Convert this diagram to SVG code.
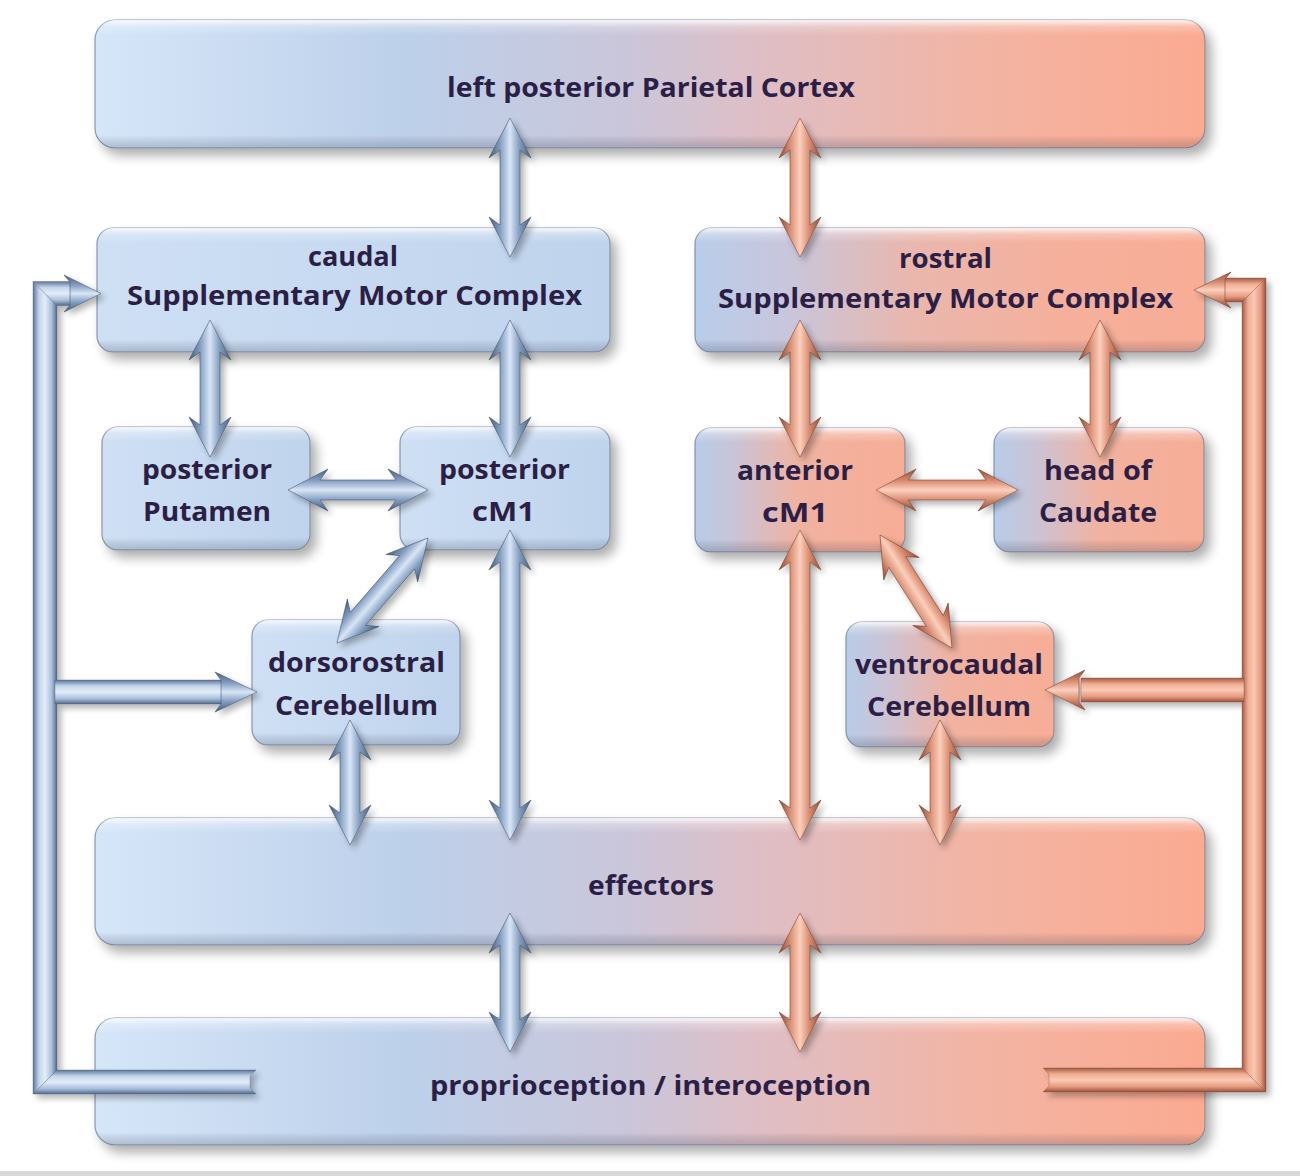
<svg xmlns="http://www.w3.org/2000/svg" width="1300" height="1176" viewBox="0 0 1300 1176">
<defs>
<style>
.t{font-family:"Open Sans","Noto Sans","Liberation Sans",sans-serif;font-weight:700;font-size:26px;fill:#2b1f46}
.box{stroke:#6d7891;stroke-opacity:.75;stroke-width:1.2;filter:url(#sh)}
.bev{fill:url(#gBev);stroke:none}
.ab{fill:url(#gArrB);stroke:#3f5270;stroke-width:.8;stroke-opacity:.7}
.ao{fill:url(#gArrO);stroke:#7d3f2c;stroke-width:.8;stroke-opacity:.7}
.tbh{fill:url(#gTubeBH);stroke:#3f5270;stroke-width:.6;stroke-opacity:.5}
.tbv{fill:url(#gTubeBV);stroke:#3f5270;stroke-width:.6;stroke-opacity:.5}
.toh{fill:url(#gTubeOH);stroke:#7d3f2c;stroke-width:.6;stroke-opacity:.5}
.tov{fill:url(#gTubeOV);stroke:#7d3f2c;stroke-width:.6;stroke-opacity:.5}
</style>
<filter id="sh" x="-10%" y="-20%" width="125%" height="150%">
<feGaussianBlur in="SourceAlpha" stdDeviation="6"/>
<feOffset dx="6" dy="7" result="o"/>
<feComponentTransfer><feFuncA type="linear" slope="0.33"/></feComponentTransfer>
<feMerge><feMergeNode/><feMergeNode in="SourceGraphic"/></feMerge>
</filter>
<filter id="sha" x="-30%" y="-30%" width="160%" height="160%">
<feGaussianBlur in="SourceAlpha" stdDeviation="3"/>
<feOffset dx="4" dy="4"/>
<feComponentTransfer><feFuncA type="linear" slope="0.3"/></feComponentTransfer>
<feMerge><feMergeNode/><feMergeNode in="SourceGraphic"/></feMerge>
</filter>
<linearGradient id="gWide" x1="0" y1="0" x2="1" y2="0">
<stop offset="0" stop-color="#d6e6f9"/>
<stop offset="0.28" stop-color="#bdd0ea"/>
<stop offset="0.48" stop-color="#cac6da"/>
<stop offset="0.6" stop-color="#dfbec5"/>
<stop offset="0.8" stop-color="#f3b4a3"/>
<stop offset="1" stop-color="#fbaa91"/>
</linearGradient>
<linearGradient id="gBlue" x1="0" y1="0" x2="1" y2="0">
<stop offset="0" stop-color="#cfe0f5"/>
<stop offset="1" stop-color="#bfd3ec"/>
</linearGradient>
<linearGradient id="gRos" x1="0" y1="0" x2="1" y2="0">
<stop offset="0" stop-color="#b9cdea"/>
<stop offset="0.18" stop-color="#c8c6dc"/>
<stop offset="0.42" stop-color="#e9b7ae"/>
<stop offset="0.7" stop-color="#f5b09c"/>
<stop offset="1" stop-color="#f8ad96"/>
</linearGradient>
<linearGradient id="gOr" x1="0" y1="0" x2="1" y2="0">
<stop offset="0" stop-color="#b7cce9"/>
<stop offset="0.2" stop-color="#cbc3d5"/>
<stop offset="0.5" stop-color="#f1b2a1"/>
<stop offset="1" stop-color="#f7ad96"/>
</linearGradient>
<linearGradient id="gBev" x1="0" y1="0" x2="0" y2="1">
<stop offset="0" stop-color="#fff" stop-opacity="0.85"/>
<stop offset="0.05" stop-color="#fff" stop-opacity="0.25"/>
<stop offset="0.12" stop-color="#fff" stop-opacity="0"/>
<stop offset="0.9" stop-color="#000" stop-opacity="0"/>
<stop offset="1" stop-color="#2a3550" stop-opacity="0.22"/>
</linearGradient>
<linearGradient id="gArrB" x1="0" y1="0" x2="0" y2="1">
<stop offset="0" stop-color="#465e7f"/>
<stop offset="0.28" stop-color="#869fc1"/>
<stop offset="0.5" stop-color="#d8e5f6"/>
<stop offset="0.72" stop-color="#8aa3c5"/>
<stop offset="1" stop-color="#405878"/>
</linearGradient>
<linearGradient id="gArrO" x1="0" y1="0" x2="0" y2="1">
<stop offset="0" stop-color="#924d39"/>
<stop offset="0.28" stop-color="#d98c70"/>
<stop offset="0.5" stop-color="#fccfbc"/>
<stop offset="0.72" stop-color="#dc9378"/>
<stop offset="1" stop-color="#8c4833"/>
</linearGradient>
<linearGradient id="gTubeBH" x1="0" y1="0" x2="0" y2="1">
<stop offset="0" stop-color="#5d7597"/>
<stop offset="0.25" stop-color="#c3d5ec"/>
<stop offset="0.5" stop-color="#e4edf9"/>
<stop offset="0.78" stop-color="#a8bedb"/>
<stop offset="1" stop-color="#52698b"/>
</linearGradient>
<linearGradient id="gTubeBV" x1="0" y1="0" x2="1" y2="0">
<stop offset="0" stop-color="#5d7597"/>
<stop offset="0.25" stop-color="#c3d5ec"/>
<stop offset="0.5" stop-color="#e4edf9"/>
<stop offset="0.78" stop-color="#a8bedb"/>
<stop offset="1" stop-color="#52698b"/>
</linearGradient>
<linearGradient id="gTubeOH" x1="0" y1="0" x2="0" y2="1">
<stop offset="0" stop-color="#a15a43"/>
<stop offset="0.25" stop-color="#f0ad93"/>
<stop offset="0.5" stop-color="#fbc9b5"/>
<stop offset="0.78" stop-color="#e59a7e"/>
<stop offset="1" stop-color="#98513b"/>
</linearGradient>
<linearGradient id="gTubeOV" x1="0" y1="0" x2="1" y2="0">
<stop offset="0" stop-color="#a15a43"/>
<stop offset="0.25" stop-color="#f0ad93"/>
<stop offset="0.5" stop-color="#fbc9b5"/>
<stop offset="0.78" stop-color="#e59a7e"/>
<stop offset="1" stop-color="#98513b"/>
</linearGradient>
</defs>

<rect x="0" y="0" width="1300" height="1176" fill="#ffffff"/>
<rect x="0" y="1171" width="1300" height="5" fill="#dadada"/>

<g id="n-parietal">
<rect class="box" x="95" y="20" width="1110" height="128" rx="20" fill="url(#gWide)"/>
<rect class="bev" x="95" y="20" width="1110" height="128" rx="20"/>
<text class="t" x="447" y="97" textLength="408" lengthAdjust="spacingAndGlyphs">left posterior Parietal Cortex</text>
</g>
<g id="n-caudalSMC">
<rect class="box" x="97" y="228" width="513" height="124" rx="16" fill="url(#gBlue)"/>
<rect class="bev" x="97" y="228" width="513" height="124" rx="16"/>
<text class="t" x="308" y="266" textLength="90" lengthAdjust="spacingAndGlyphs">caudal</text>
<text class="t" x="127" y="305" textLength="455" lengthAdjust="spacingAndGlyphs">Supplementary Motor Complex</text>
</g>
<g id="n-rostralSMC">
<rect class="box" x="695" y="228" width="510" height="124" rx="16" fill="url(#gRos)"/>
<rect class="bev" x="695" y="228" width="510" height="124" rx="16"/>
<text class="t" x="899" y="268" textLength="93" lengthAdjust="spacingAndGlyphs">rostral</text>
<text class="t" x="718" y="308" textLength="455" lengthAdjust="spacingAndGlyphs">Supplementary Motor Complex</text>
</g>
<g id="n-putamen">
<rect class="box" x="102" y="427" width="208" height="123" rx="16" fill="url(#gBlue)"/>
<rect class="bev" x="102" y="427" width="208" height="123" rx="16"/>
<text class="t" x="142" y="479" textLength="130" lengthAdjust="spacingAndGlyphs">posterior</text>
<text class="t" x="143" y="521" textLength="128" lengthAdjust="spacingAndGlyphs">Putamen</text>
</g>
<g id="n-postcM1">
<rect class="box" x="400" y="427" width="210" height="123" rx="16" fill="url(#gBlue)"/>
<rect class="bev" x="400" y="427" width="210" height="123" rx="16"/>
<text class="t" x="439" y="479" textLength="131" lengthAdjust="spacingAndGlyphs">posterior</text>
<text class="t" x="472" y="521" textLength="63" lengthAdjust="spacingAndGlyphs">cM1</text>
</g>
<g id="n-antcM1">
<rect class="box" x="695" y="428" width="210" height="124" rx="16" fill="url(#gOr)"/>
<rect class="bev" x="695" y="428" width="210" height="124" rx="16"/>
<text class="t" x="737" y="480" textLength="116" lengthAdjust="spacingAndGlyphs">anterior</text>
<text class="t" x="762" y="522" textLength="66" lengthAdjust="spacingAndGlyphs">cM1</text>
</g>
<g id="n-caudate">
<rect class="box" x="994" y="428" width="210" height="124" rx="16" fill="url(#gOr)"/>
<rect class="bev" x="994" y="428" width="210" height="124" rx="16"/>
<text class="t" x="1044" y="480" textLength="108" lengthAdjust="spacingAndGlyphs">head of</text>
<text class="t" x="1039" y="522" textLength="118" lengthAdjust="spacingAndGlyphs">Caudate</text>
</g>
<g id="n-dorsoCb">
<rect class="box" x="252" y="620" width="208" height="125" rx="16" fill="url(#gBlue)"/>
<rect class="bev" x="252" y="620" width="208" height="125" rx="16"/>
<text class="t" x="268" y="672" textLength="177" lengthAdjust="spacingAndGlyphs">dorsorostral</text>
<text class="t" x="275" y="715" textLength="163" lengthAdjust="spacingAndGlyphs">Cerebellum</text>
</g>
<g id="n-ventroCb">
<rect class="box" x="846" y="622" width="208" height="125" rx="16" fill="url(#gOr)"/>
<rect class="bev" x="846" y="622" width="208" height="125" rx="16"/>
<text class="t" x="855" y="674" textLength="188" lengthAdjust="spacingAndGlyphs">ventrocaudal</text>
<text class="t" x="867" y="716" textLength="164" lengthAdjust="spacingAndGlyphs">Cerebellum</text>
</g>
<g id="n-effectors">
<rect class="box" x="95" y="818" width="1110" height="127" rx="20" fill="url(#gWide)"/>
<rect class="bev" x="95" y="818" width="1110" height="127" rx="20"/>
<text class="t" x="588" y="895" textLength="126" lengthAdjust="spacingAndGlyphs">effectors</text>
</g>
<g id="n-proprio">
<rect class="box" x="95" y="1018" width="1110" height="127" rx="20" fill="url(#gWide)"/>
<rect class="bev" x="95" y="1018" width="1110" height="127" rx="20"/>
<text class="t" x="430" y="1095" textLength="441" lengthAdjust="spacingAndGlyphs">proprioception / interoception</text>
</g>

<g id="connectors" filter="url(#sha)">
<!-- left feedback loop -->
<g id="fb-left">
<polygon class="tbv" points="33,281.5 57,305.5 57,1070 33,1094"/>
<polygon class="tbh" points="33,281.5 74,281.5 74,305.5 57,305.5"/>
<polygon class="tbh" points="33,1094 57,1070 256,1070 250,1076 250,1088 256,1094"/>
<rect class="tbh" x="55" y="680" width="168" height="24"/>
<polygon class="ab" points="101,293.5 64,275 70,282 70,305 64,312"/>
<polygon class="ab" points="257,692 215,672 221,680 221,704 215,712"/>
</g>
<!-- right feedback loop -->
<g id="fb-right">
<polygon class="tov" points="1242,302 1266,278 1266,1092 1242,1068"/>
<polygon class="toh" points="1222,278 1266,278 1242,302 1222,302"/>
<polygon class="toh" points="1043,1068 1242,1068 1266,1092 1043,1092 1049,1086 1049,1074"/>
<rect class="toh" x="1081" y="678" width="163" height="24"/>
<polygon class="ao" points="1194,290 1231,272 1225,279 1225,301 1231,308"/>
<polygon class="ao" points="1045,690 1085,670 1079,678 1079,702 1085,710"/>
</g>

<!-- blue double arrows -->
<g transform="translate(510,187.5) rotate(90)"><path class="ab" d="M-69.5,0 L-29.5,-21 L-37.5,-10 L37.5,-10 L29.5,-21 L69.5,0 L29.5,21 L37.5,10 L-37.5,10 L-29.5,21 Z"/></g>
<g transform="translate(210,388.5) rotate(90)"><path class="ab" d="M-68.5,0 L-28.5,-21 L-36.5,-10 L36.5,-10 L28.5,-21 L68.5,0 L28.5,21 L36.5,10 L-36.5,10 L-28.5,21 Z"/></g>
<g transform="translate(510,388.5) rotate(90)"><path class="ab" d="M-68.5,0 L-28.5,-21 L-36.5,-10 L36.5,-10 L28.5,-21 L68.5,0 L28.5,21 L36.5,10 L-36.5,10 L-28.5,21 Z"/></g>
<g transform="translate(358,490)"><path class="ab" d="M-70,0 L-30,-21 L-38,-10 L38,-10 L30,-21 L70,0 L30,21 L38,10 L-38,10 L-30,21 Z"/></g>
<g transform="translate(382.5,590.5) rotate(-49.1)"><path class="ab" d="M-69.5,0 L-29.5,-21 L-37.5,-10 L37.5,-10 L29.5,-21 L69.5,0 L29.5,21 L37.5,10 L-37.5,10 L-29.5,21 Z"/></g>
<g transform="translate(510,685) rotate(90)"><path class="ab" d="M-155,0 L-115,-21 L-123,-10 L123,-10 L115,-21 L155,0 L115,21 L123,10 L-123,10 L-115,21 Z"/></g>
<g transform="translate(350,782.5) rotate(90)"><path class="ab" d="M-62.5,0 L-22.5,-21 L-30.5,-10 L30.5,-10 L22.5,-21 L62.5,0 L22.5,21 L30.5,10 L-30.5,10 L-22.5,21 Z"/></g>
<g transform="translate(510,982.5) rotate(90)"><path class="ab" d="M-69.5,0 L-29.5,-21 L-37.5,-10 L37.5,-10 L29.5,-21 L69.5,0 L29.5,21 L37.5,10 L-37.5,10 L-29.5,21 Z"/></g>

<!-- orange double arrows -->
<g transform="translate(800,187.5) rotate(90)"><path class="ao" d="M-69.5,0 L-29.5,-21 L-37.5,-10 L37.5,-10 L29.5,-21 L69.5,0 L29.5,21 L37.5,10 L-37.5,10 L-29.5,21 Z"/></g>
<g transform="translate(800,388.5) rotate(90)"><path class="ao" d="M-68.5,0 L-28.5,-21 L-36.5,-10 L36.5,-10 L28.5,-21 L68.5,0 L28.5,21 L36.5,10 L-36.5,10 L-28.5,21 Z"/></g>
<g transform="translate(1100,388.5) rotate(90)"><path class="ao" d="M-68.5,0 L-28.5,-21 L-36.5,-10 L36.5,-10 L28.5,-21 L68.5,0 L28.5,21 L36.5,10 L-36.5,10 L-28.5,21 Z"/></g>
<g transform="translate(947,490)"><path class="ao" d="M-71,0 L-31,-21 L-39,-10 L39,-10 L31,-21 L71,0 L31,21 L39,10 L-39,10 L-31,21 Z"/></g>
<g transform="translate(916,591.5) rotate(57.5)"><path class="ao" d="M-67,0 L-27,-21 L-35,-10 L35,-10 L27,-21 L67,0 L27,21 L35,10 L-35,10 L-27,21 Z"/></g>
<g transform="translate(800,685) rotate(90)"><path class="ao" d="M-155,0 L-115,-21 L-123,-10 L123,-10 L115,-21 L155,0 L115,21 L123,10 L-123,10 L-115,21 Z"/></g>
<g transform="translate(940,782.5) rotate(90)"><path class="ao" d="M-62.5,0 L-22.5,-21 L-30.5,-10 L30.5,-10 L22.5,-21 L62.5,0 L22.5,21 L30.5,10 L-30.5,10 L-22.5,21 Z"/></g>
<g transform="translate(800,982.5) rotate(90)"><path class="ao" d="M-69.5,0 L-29.5,-21 L-37.5,-10 L37.5,-10 L29.5,-21 L69.5,0 L29.5,21 L37.5,10 L-37.5,10 L-29.5,21 Z"/></g>
</g>
</svg>
